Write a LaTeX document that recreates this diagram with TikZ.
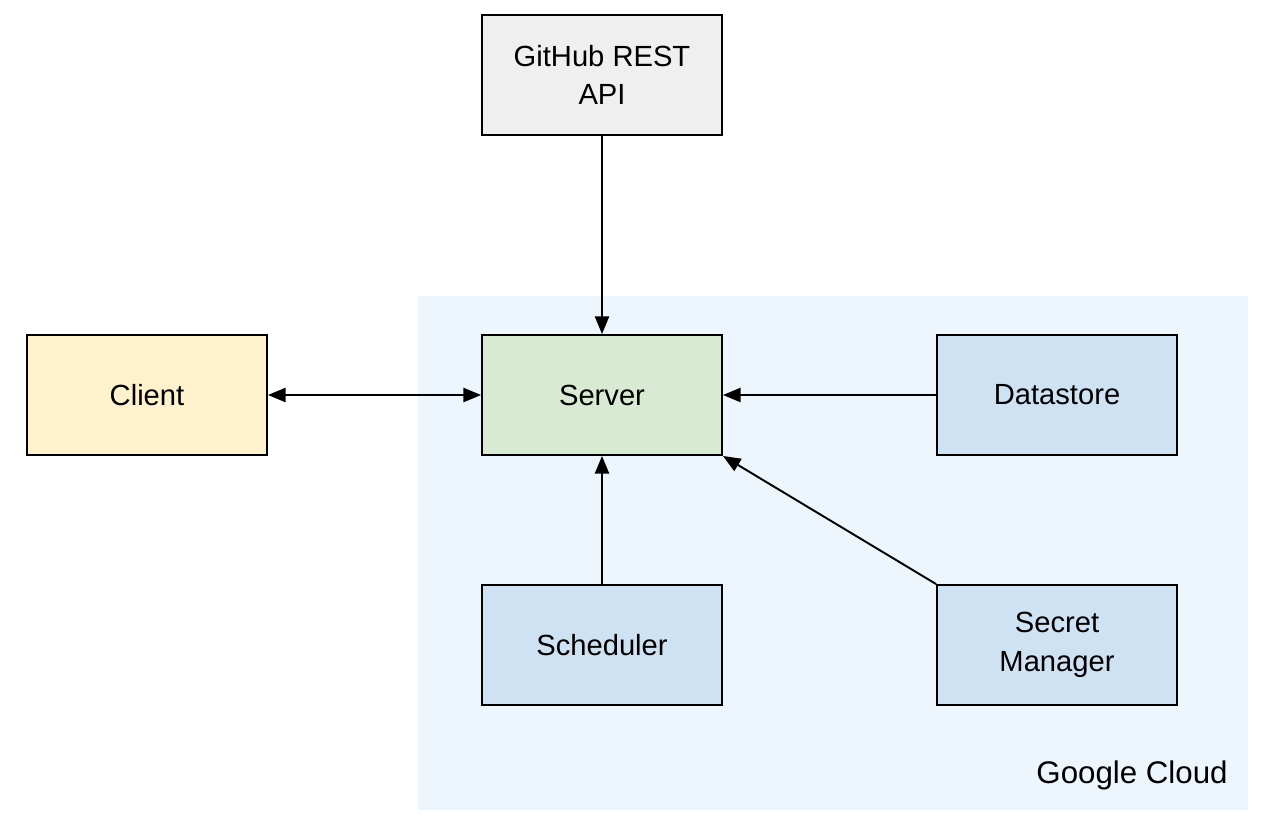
\documentclass[tikz,border=0pt]{standalone}
\usepackage{fontspec}
\setmainfont{Liberation Sans}
\usetikzlibrary{arrows.meta,calc}

\definecolor{apigrey}{HTML}{EFEFEF}
\definecolor{clientyellow}{HTML}{FFF2CC}
\definecolor{servergreen}{HTML}{D9EAD3}
\definecolor{gcpblue}{HTML}{CFE2F3}
\definecolor{cloudbg}{HTML}{EEF6FD}

\tikzset{
  box/.style={draw=black,line width=1.1pt,minimum width=4.8cm,minimum height=2.4cm,
    align=center,font=\fontsize{16.6}{22}\selectfont,inner sep=0pt},
  link/.style={line width=1.1pt,-{Triangle[length=10pt,width=8pt]}},
  twoway/.style={line width=1.1pt,{Triangle[length=10pt,width=8pt]}-{Triangle[length=10pt,width=8pt]}},
}

\begin{document}
\begin{tikzpicture}[x=0.02cm,y=-0.02cm]
\useasboundingbox (0,0) rectangle (1280,835);
\fill[cloudbg] (418,296) rectangle (1248,810);
\node[anchor=base east,inner sep=0pt,font=\fontsize{17.8}{20}\selectfont] (gcp) at (1228,783) {Google Cloud};

\node[box,fill=apigrey] (github) at (602,75) {GitHub REST\\API};
\node[box,fill=clientyellow] (client) at (147,395) {Client};
\node[box,fill=servergreen] (server) at (602,395) {Server};
\node[box,fill=gcpblue] (datastore) at (1057,395) {Datastore};
\node[box,fill=gcpblue] (scheduler) at (602,645) {Scheduler};
\node[box,fill=gcpblue] (secret) at (1057,645) {Secret\\Manager};

\draw[link] (github) -- (server);
\draw[twoway] (client) -- (server);
\draw[link] (datastore) -- (server);
\draw[link] (scheduler) -- (server);
\draw[link] (secret.north west) -- (server.south east);
\end{tikzpicture}
\end{document}
